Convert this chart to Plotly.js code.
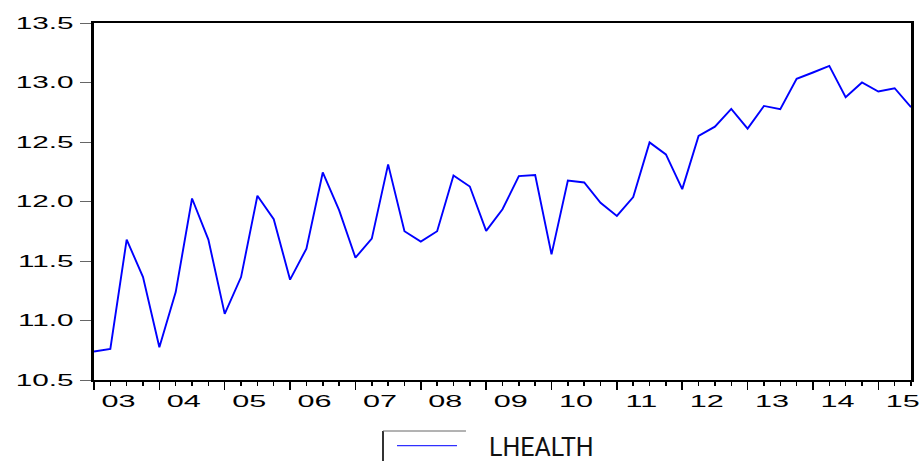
<!DOCTYPE html>
<html>
<head>
<meta charset="utf-8">
<script src="https://cdn.plot.ly/plotly-3.0.1.min.js"></script>
<style>
html, body { margin: 0; padding: 0; background: #fff; }
#chart { width: 922px; height: 461px; }
/* EViews-style horizontally stretched tick labels */
g.ytick { transform-box: fill-box; transform-origin: right center; transform: scaleX(1.75); }
g.x2tick { transform-box: fill-box; transform-origin: center center; transform: scaleX(1.8); }
</style>
</head>
<body>
<div id="chart"></div>
<script>
// ---- data (quarterly, 2003Q1 .. 2015Q3) ----
const seriesName = "LHEALTH";
const firstYear = 2003;
const lhealth = [
  10.739, 10.761, 11.680, 11.365,
  10.775, 11.239, 12.025, 11.680,
  11.056, 11.365, 12.048, 11.851,
  11.343, 11.604, 12.244, 11.927,
  11.528, 11.688, 12.312, 11.750,
  11.663, 11.750, 12.219, 12.126,
  11.753, 11.935, 12.213, 12.222,
  11.556, 12.177, 12.160, 11.989,
  11.879, 12.037, 12.497, 12.396,
  12.104, 12.551, 12.629, 12.778,
  12.612, 12.803, 12.775, 13.031,
  13.084, 13.140, 12.876, 13.000,
  12.924, 12.952, 12.792
];
const yearTicks  = [2003, 2004, 2005, 2006, 2007, 2008, 2009, 2010, 2011, 2012, 2013, 2014, 2015];
const yearLabels = ["03", "04", "05", "06", "07", "08", "09", "10", "11", "12", "13", "14", "15"];

// time position of each quarter (decimal year)
const xq = lhealth.map((v, i) => firstYear + i / 4);
// year labels sit in the middle of each year's four quarters
const labelPos = yearTicks.map(y => y + 0.375);
const xRange = [firstYear, xq[xq.length - 1]];

const trace = {
  x: xq,
  y: lhealth,
  type: "scatter",
  mode: "lines",
  name: seriesName,
  line: { color: "#0000ff", width: 1.9 },
  hoverinfo: "x+y"
};
// carrier for the label axis (not drawn)
const labelCarrier = {
  x: xq,
  y: lhealth,
  xaxis: "x2",
  type: "scatter",
  mode: "lines",
  line: { width: 0, color: "rgba(0,0,0,0)" },
  hoverinfo: "skip",
  showlegend: false
};

const layout = {
  width: 922,
  height: 461,
  margin: { l: 94, r: 11, t: 23, b: 81, pad: 0 },
  paper_bgcolor: "#ffffff",
  plot_bgcolor: "#ffffff",
  showlegend: false,
  font: { family: '"Liberation Sans", Arial, sans-serif', size: 17, color: "#000" },
  xaxis: {
    range: xRange,
    tickmode: "array",
    tickvals: yearTicks,
    showticklabels: false,
    ticks: "outside",
    ticklen: 8,
    tickwidth: 1.5,
    tickcolor: "#000",
    showline: true,
    linewidth: 2,
    linecolor: "#000",
    mirror: true,
    showgrid: false,
    zeroline: false,
    minor: {
      tickmode: "linear",
      tick0: firstYear,
      dtick: 0.25,
      ticks: "outside",
      ticklen: 4,
      tickwidth: 1.5,
      tickcolor: "#000",
      showgrid: false
    }
  },
  xaxis2: {
    overlaying: "x",
    side: "bottom",
    range: xRange,
    tickmode: "array",
    tickvals: labelPos,
    ticktext: yearLabels,
    ticks: "",
    showline: false,
    showgrid: false,
    zeroline: false,
    ticklabelstandoff: 9,
    tickfont: { size: 17 }
  },
  yaxis: {
    range: [10.5, 13.5],
    tick0: 10.5,
    dtick: 0.5,
    tickformat: ".1f",
    ticks: "outside",
    ticklen: 11,
    tickwidth: 1,
    tickcolor: "#666",
    showline: true,
    linewidth: 3,
    linecolor: "#000",
    mirror: true,
    showgrid: false,
    zeroline: false,
    ticklabelstandoff: 3,
    tickfont: { size: 17 }
  },
  shapes: [
    // legend frame (partially visible, as in the original export)
    { type: "line", xref: "paper", yref: "paper", x0: 0.3537, x1: 0.3537, y0: -0.1429, y1: -0.24,
      line: { color: "#333", width: 2 } },
    { type: "line", xref: "paper", yref: "paper", x0: 0.3537, x1: 0.4553, y0: -0.1429, y1: -0.1429,
      line: { color: "#666", width: 1 } },
    // legend sample line
    { type: "line", xref: "paper", yref: "paper", x0: 0.3709, x1: 0.4443, y0: -0.184, y1: -0.184,
      line: { color: "#3030ff", width: 1.3 } }
  ],
  annotations: [
    { text: seriesName, xref: "paper", yref: "paper", x: 0.481, y: -0.189,
      xanchor: "left", yanchor: "middle", showarrow: false,
      font: { family: '"Liberation Sans Narrow", Roboto, sans-serif', size: 25, color: "#111" } }
  ]
};

Plotly.newPlot("chart", [trace, labelCarrier], layout, { displayModeBar: false, staticPlot: true });
</script>
</body>
</html>
